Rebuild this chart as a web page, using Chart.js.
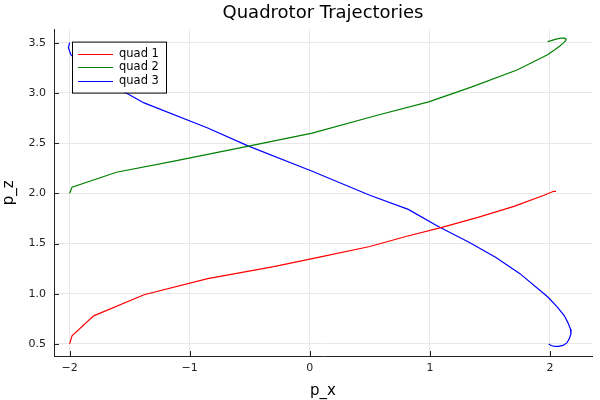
<!DOCTYPE html>
<html>
<head>
<meta charset="utf-8">
<script src="https://cdn.jsdelivr.net/npm/chart.js@4"></script>
<style>
  html, body { margin: 0; padding: 0; background: #fff; }
  #wrap { width: 600px; height: 400px; }
</style>
</head>
<body>
<div id="wrap"><canvas id="chart"></canvas></div>
<script>
// ── Data ──────────────────────────────────────────────────
const seriesLabels = ['quad 1', 'quad 2', 'quad 3'];
const seriesColors = ['#ff0000', '#008000', '#0000ff'];

const quad1X = [-2.00, -1.98, -1.80, -1.38, -0.85, -0.30, 0.10, 0.50, 0.80, 1.10, 1.40, 1.70, 1.95, 2.03, 2.05];
const quad1Y = [ 0.50,  0.58,  0.78,  0.99,  1.15,  1.27, 1.37, 1.47, 1.57, 1.66, 1.76, 1.87, 1.98, 2.02, 2.02];

const quad2X = [-2.00, -1.98, -1.61, -1.13, -0.51, 0.02, 0.57, 0.99, 1.35, 1.73, 1.98, 2.04, 2.08, 2.11, 2.13, 2.135, 2.12, 2.09, 2.05, 2.01, 1.98];
const quad2Y = [ 2.00,  2.06,  2.21,  2.32,  2.47, 2.60, 2.78, 2.91, 3.06, 3.23, 3.38, 3.43, 3.465, 3.495, 3.52, 3.535, 3.545, 3.545, 3.535, 3.52, 3.51];

const quad3X = [-2.00, -2.01, -1.99, -1.80, -1.38, -0.85, -0.51, 0.02, 0.50, 0.82, 1.07, 1.33, 1.55, 1.75, 1.98, 2.06, 2.12, 2.15, 2.17, 2.175, 2.16, 2.14, 2.11, 2.07, 2.04, 2.01, 1.99];
const quad3Y = [ 3.50,  3.45,  3.38,  3.18,  2.90,  2.65,  2.47, 2.22, 1.98, 1.84, 1.67, 1.51, 1.36, 1.20, 0.97, 0.87, 0.78, 0.71, 0.65, 0.60, 0.55, 0.51, 0.485, 0.475, 0.475, 0.485, 0.50];

const xTicks = [-2, -1, 0, 1, 2];
const yTicks = [0.5, 1.0, 1.5, 2.0, 2.5, 3.0, 3.5];

// ── Helpers ───────────────────────────────────────────────
const FONT = 'DejaVu Sans';
const pts = (xs, ys) => xs.map((x, i) => ({ x, y: ys[i] }));
const minus = s => String(s).replace('-', '\u2212');

const seriesData = [pts(quad1X, quad1Y), pts(quad2X, quad2Y), pts(quad3X, quad3Y)];

// ── Plugins: inward ticks + boxed legend ──────────────────
const innerTicks = {
  id: 'innerTicks',
  afterDatasetsDraw(chart) {
    const { ctx, chartArea: a, scales: { x, y } } = chart;
    ctx.save();
    ctx.strokeStyle = '#222';
    ctx.lineWidth = 1;
    ctx.beginPath();
    xTicks.forEach(v => {
      const px = Math.round(x.getPixelForValue(v)) + 0.5;
      ctx.moveTo(px, a.bottom); ctx.lineTo(px, a.bottom - 5);
    });
    yTicks.forEach(v => {
      const py = Math.round(y.getPixelForValue(v)) + 0.5;
      ctx.moveTo(a.left, py); ctx.lineTo(a.left + 5, py);
    });
    ctx.stroke();
    ctx.restore();
  }
};

const boxLegend = {
  id: 'boxLegend',
  afterDraw(chart) {
    const { ctx, chartArea: a } = chart;
    const left = a.left + 18, top = a.top + 12, w = 94, h = 51;
    ctx.save();
    ctx.fillStyle = '#fff';
    ctx.fillRect(left, top, w, h);
    ctx.strokeStyle = '#000';
    ctx.lineWidth = 1;
    ctx.strokeRect(left + 0.5, top + 0.5, w, h);
    ctx.font = '11.5px "' + FONT + '"';
    ctx.textBaseline = 'middle';
    chart.data.datasets.forEach((ds, i) => {
      const cy = Math.round(top + 12.5 + i * 13.2) + 0.5;
      ctx.strokeStyle = ds.borderColor;
      ctx.beginPath();
      ctx.moveTo(left + 6, cy); ctx.lineTo(left + 41, cy);
      ctx.stroke();
      ctx.fillStyle = '#000';
      ctx.fillText(ds.label, left + 47, cy);
    });
    ctx.restore();
  }
};

// ── Chart ─────────────────────────────────────────────────
new Chart(document.getElementById('chart'), {
  type: 'scatter',
  data: {
    datasets: seriesData.map((d, i) => ({
      label: seriesLabels[i],
      data: d,
      showLine: true,
      borderColor: seriesColors[i],
      backgroundColor: seriesColors[i],
      borderWidth: 1.2,
      pointRadius: 0,
      tension: 0,
    }))
  },
  options: {
    responsive: true,
    maintainAspectRatio: false,
    animation: false,
    layout: { padding: { left: 0, right: 8, top: 0, bottom: 0 } },
    plugins: {
      legend: { display: false },
      tooltip: { enabled: false },
      title: {
        display: true,
        text: 'Quadrotor Trajectories',
        fullSize: false,
        color: '#000',
        font: { family: FONT, size: 18, weight: 'normal' },
        padding: { top: 3, bottom: 5 },
      }
    },
    scales: {
      x: {
        type: 'linear',
        min: -2.13,
        max: 2.35,
        afterBuildTicks: s => { s.ticks = xTicks.map(v => ({ value: v })); },
        afterFit: s => { s.height = 44; },
        grid: { color: '#e8e8e8', lineWidth: 1, drawTicks: false },
        border: { display: true, color: '#222', width: 1 },
        ticks: {
          color: '#222',
          padding: 6,
          font: { family: FONT, size: 11 },
          callback: v => minus(v)
        },
        title: {
          display: true,
          text: 'p_x',
          color: '#000',
          font: { family: FONT, size: 15 },
          padding: { top: 2, bottom: 0 }
        }
      },
      y: {
        type: 'linear',
        min: 0.38,
        max: 3.63,
        afterBuildTicks: s => { s.ticks = yTicks.map(v => ({ value: v })); },
        afterFit: s => { s.width = 54; },
        grid: { color: '#e8e8e8', lineWidth: 1, drawTicks: false },
        border: { display: true, color: '#222', width: 1 },
        ticks: {
          color: '#222',
          padding: 8,
          font: { family: FONT, size: 11 },
          callback: v => Number(v).toFixed(1)
        },
        title: {
          display: true,
          text: 'p_z',
          color: '#000',
          font: { family: FONT, size: 15 },
          padding: { top: 0, bottom: 0 }
        }
      }
    }
  },
  plugins: [innerTicks, boxLegend]
});
</script>
</body>
</html>
